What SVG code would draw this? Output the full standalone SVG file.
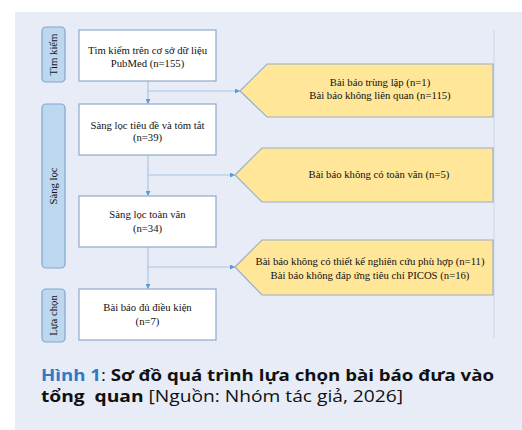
<svg xmlns="http://www.w3.org/2000/svg" width="522" height="430" viewBox="0 0 522 430">
<defs>
<style>
.t{font-family:"Liberation Serif","Times New Roman",serif;font-size:10.7px;fill:#111;text-anchor:middle}
.box{fill:#fff;stroke:#8faacb;stroke-width:1.2}
.lane{fill:#bdd7ee;stroke:#7fa7d2;stroke-width:1.2}
.ex{fill:#ffe699;stroke:#9aaec4;stroke-width:1.2}
.c{fill:none;stroke:#a9c6e6;stroke-width:1.2}
.cap{font-family:"Open Sans","Noto Sans","Liberation Sans",sans-serif;font-size:16px;fill:#111}
</style>
<marker id="ah" viewBox="0 0 6 6" refX="6" refY="3" markerWidth="5" markerHeight="5" orient="auto" markerUnits="userSpaceOnUse">
<path d="M0,0 L6,3 L0,6 z" fill="#5b9bd5"/>
</marker>
</defs>
<rect x="0" y="0" width="522" height="430" fill="#fff"/>
<rect x="15" y="12" width="507" height="418" fill="#e7ecf7"/>
<line x1="494" y1="30" x2="494" y2="338" stroke="#d9e1ef" stroke-width="2"/>

<g id="lane-timkiem">
<rect class="lane" x="42" y="27" width="23" height="55" rx="4"/>
<text class="t" transform="translate(57,54.5) rotate(-90)">Tìm kiếm</text>
</g>
<g id="lane-sangloc">
<rect class="lane" x="42" y="104" width="23" height="164" rx="4"/>
<text class="t" transform="translate(57,186) rotate(-90)">Sàng lọc</text>
</g>
<g id="lane-luachon">
<rect class="lane" x="42" y="289" width="23" height="53" rx="4"/>
<text class="t" transform="translate(57,315.5) rotate(-90)">Lựa chọn</text>
</g>

<g id="connectors">
<line class="c" x1="148" y1="81" x2="148" y2="104" marker-end="url(#ah)"/>
<line class="c" x1="148" y1="91" x2="240" y2="91" marker-end="url(#ah)"/>
<line class="c" x1="148" y1="155" x2="148" y2="196" marker-end="url(#ah)"/>
<line class="c" x1="148" y1="175" x2="235" y2="175" marker-end="url(#ah)"/>
<line class="c" x1="148" y1="247" x2="148" y2="289" marker-end="url(#ah)"/>
<line class="c" x1="148" y1="267" x2="235" y2="267" marker-end="url(#ah)"/>
</g>

<g id="box-search">
<rect class="box" x="79" y="30" width="137" height="51"/>
<text class="t" x="147.5" y="54">Tìm kiếm trên cơ sở dữ liệu</text>
<text class="t" x="147.5" y="67">PubMed (n=155)</text>
</g>
<g id="box-title">
<rect class="box" x="79" y="104" width="137" height="51"/>
<text class="t" x="147.5" y="129">Sàng lọc tiêu đề và tóm tắt</text>
<text class="t" x="147.5" y="141">(n=39)</text>
</g>
<g id="box-fulltext">
<rect class="box" x="79" y="196" width="137" height="51"/>
<text class="t" x="147.5" y="218">Sàng lọc toàn văn</text>
<text class="t" x="147.5" y="232">(n=34)</text>
</g>
<g id="box-eligible">
<rect class="box" x="79" y="289" width="137" height="51"/>
<text class="t" x="147.5" y="311">Bài báo đủ điều kiện</text>
<text class="t" x="147.5" y="325">(n=7)</text>
</g>

<g id="ex-1">
<path class="ex" d="M240,91 L267,64 L493,64 L493,117 L267,117 z"/>
<text class="t" x="380" y="86">Bài báo trùng lặp (n=1)</text>
<text class="t" x="380" y="99">Bài báo không liên quan (n=115)</text>
</g>
<g id="ex-2">
<path class="ex" d="M235,175 L262,148 L493,148 L493,202 L262,202 z"/>
<text class="t" x="379" y="178">Bài báo không có toàn văn (n=5)</text>
</g>
<g id="ex-3">
<path class="ex" d="M235,267 L262,240 L493,240 L493,295 L262,295 z"/>
<text class="t" x="370" y="265">Bài báo không có thiết kế nghiên cứu phù hợp (n=11)</text>
<text class="t" x="370" y="279">Bài báo không đáp ứng tiêu chí PICOS (n=16)</text>
</g>

<text class="cap" x="41" y="381" textLength="453" lengthAdjust="spacingAndGlyphs"><tspan fill="#2e7bc4" font-weight="bold">Hình 1</tspan>: <tspan font-weight="bold">Sơ đồ quá trình lựa chọn bài báo đưa vào</tspan></text>
<text class="cap" x="41" y="402" textLength="362" lengthAdjust="spacingAndGlyphs"><tspan font-weight="bold">tổng&#160; quan</tspan> [Nguồn: Nhóm tác giả, 2026]</text>
</svg>
